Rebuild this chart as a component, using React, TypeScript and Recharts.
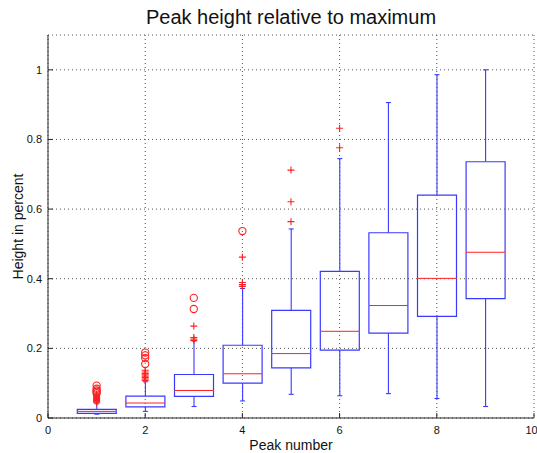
import type { ReactElement } from 'react';
import { Bar, CartesianGrid, ComposedChart, Label, Scatter, XAxis, YAxis } from 'recharts';

const peaks = [1, 2, 3, 4, 5, 6, 7, 8, 9];
const lowerWhisker = [0.011, 0.019, 0.033, 0.049, 0.068, 0.064, 0.07, 0.056, 0.033];
const lowerQuartile = [0.013, 0.032, 0.062, 0.1, 0.144, 0.195, 0.244, 0.292, 0.343];
const medians = [0.019, 0.043, 0.079, 0.127, 0.185, 0.249, 0.323, 0.401, 0.476];
const upperQuartile = [0.025, 0.063, 0.125, 0.209, 0.309, 0.421, 0.532, 0.64, 0.736];
const upperWhisker = [0.041, 0.104, 0.221, 0.372, 0.543, 0.745, 0.906, 0.986, 1.0];

// '+' marks (1.5–3 IQR) and 'o' marks (beyond 3 IQR), one list per peak
const outliers = [
  [0.044, 0.047, 0.05, 0.053, 0.056, 0.059, 0.062, 0.065, 0.068],
  [0.108, 0.112, 0.116, 0.12, 0.124, 0.128, 0.132, 0.137],
  [0.223, 0.227, 0.231, 0.264],
  [0.378, 0.383, 0.389, 0.462],
  [0.564, 0.621, 0.712],
  [0.776, 0.832],
  [],
  [],
  [],
];
const extremes = [
  [0.071, 0.075, 0.079, 0.084, 0.093],
  [0.155, 0.172, 0.18, 0.188],
  [0.313, 0.345],
  [0.537],
  [],
  [],
  [],
  [],
  [],
];

const xTicks = [0, 2, 4, 6, 8, 10];
const yTicks = [0, 0.2, 0.4, 0.6, 0.8, 1];

const BLUE = '#3a3aff';
const RED = '#ff2020';
const FRAME = '#262626';
const FONT = '"Liberation Sans", Arial, Helvetica, sans-serif';

const rows = peaks.map((peak, i) => ({
  peak,
  base: lowerWhisker[i],
  lowTail: lowerQuartile[i] - lowerWhisker[i],
  lowBox: medians[i] - lowerQuartile[i],
  highBox: upperQuartile[i] - medians[i],
  highTail: upperWhisker[i] - upperQuartile[i],
}));

const plusPoints = outliers.flatMap((vals, i) => vals.map((value) => ({ peak: peaks[i], value })));
const circlePoints = extremes.flatMap((vals, i) => vals.map((value) => ({ peak: peaks[i], value })));

interface SegProps {
  x?: number;
  y?: number;
  width?: number;
  height?: number;
}

function seg(props: unknown): Required<SegProps> {
  const p = props as SegProps;
  return { x: Number(p.x ?? 0), y: Number(p.y ?? 0), width: Number(p.width ?? 0), height: Number(p.height ?? 0) };
}

function LowTail(props: unknown): ReactElement {
  const { x, y, width, height } = seg(props);
  const cx = x + width / 2;
  const bottom = y + height;
  return (
    <g stroke={BLUE} strokeWidth={1.1} fill="none">
      <line x1={cx} y1={y} x2={cx} y2={bottom} />
      <line x1={cx - 2.5} y1={bottom} x2={cx + 2.5} y2={bottom} />
    </g>
  );
}

function HighTail(props: unknown): ReactElement {
  const { x, y, width, height } = seg(props);
  const cx = x + width / 2;
  return (
    <g stroke={BLUE} strokeWidth={1.1} fill="none">
      <line x1={cx} y1={y} x2={cx} y2={y + height} />
      <line x1={cx - 2.5} y1={y} x2={cx + 2.5} y2={y} />
    </g>
  );
}

// lower half of the box: sides and bottom edge, open at the median
function LowBox(props: unknown): ReactElement {
  const { x, y, width, height } = seg(props);
  return (
    <path
      d={`M${x},${y}V${y + height}H${x + width}V${y}`}
      stroke={BLUE}
      strokeWidth={1.2}
      fill="none"
    />
  );
}

// upper half of the box plus the red median line at its bottom
function HighBox(props: unknown): ReactElement {
  const { x, y, width, height } = seg(props);
  return (
    <g fill="none">
      <path d={`M${x},${y + height}V${y}H${x + width}V${y + height}`} stroke={BLUE} strokeWidth={1.2} />
      <line x1={x} y1={y + height} x2={x + width} y2={y + height} stroke={RED} strokeWidth={1} />
    </g>
  );
}

function PlusMark(props: unknown): ReactElement {
  const { cx, cy } = props as { cx: number; cy: number };
  return <path d={`M${cx - 3.5},${cy}h7M${cx},${cy - 3.5}v7`} stroke={RED} strokeWidth={1.1} fill="none" />;
}

function CircleMark(props: unknown): ReactElement {
  const { cx, cy } = props as { cx: number; cy: number };
  return <circle cx={cx} cy={cy} r={3.6} stroke={RED} strokeWidth={1.1} fill="none" />;
}

const tickStyle = { fill: '#111', fontSize: 11, fontFamily: FONT };

export default function App(): ReactElement {
  return (
    <div style={{ position: 'relative', width: 537, height: 453, background: '#fff' }}>
      <style>{'body{margin:0}'}</style>
      <div
        style={{
          position: 'absolute',
          left: 48,
          width: 486,
          top: 6,
          textAlign: 'center',
          fontFamily: FONT,
          fontSize: 20,
          color: '#111',
          lineHeight: '23px',
        }}
      >
        Peak height relative to maximum
      </div>
      <ComposedChart width={537} height={453} data={rows} margin={{ top: 35, right: 3, bottom: 0, left: 0 }}>
        <CartesianGrid stroke="#555" strokeDasharray="1 3" />
        <XAxis
          dataKey="peak"
          type="number"
          domain={[0, 10]}
          ticks={xTicks}
          allowDataOverflow
          height={35}
          tickSize={-5}
          tickMargin={13}
          stroke={FRAME}
          tick={tickStyle}
        >
          <Label
            content={(props: unknown) => {
              const vb = (props as { viewBox: { x: number; y: number; width: number } }).viewBox;
              return (
                <text x={vb.x + vb.width / 2} y={vb.y + 32} textAnchor="middle" fontSize={14} fontFamily={FONT} fill="#111">
                  Peak number
                </text>
              );
            }}
          />
        </XAxis>
        <XAxis
          xAxisId="top"
          orientation="top"
          type="number"
          domain={[0, 10]}
          ticks={xTicks}
          allowDataOverflow
          height={0}
          tick={false}
          tickSize={-5}
          stroke={FRAME}
        />
        <YAxis
          type="number"
          domain={[0, 1.1]}
          ticks={yTicks}
          allowDataOverflow
          width={48}
          tickSize={-5}
          tickMargin={11}
          stroke={FRAME}
          tick={tickStyle}
        >
          <Label
            content={(props: unknown) => {
              const vb = (props as { viewBox: { y: number; height: number } }).viewBox;
              const cx = 18;
              const cy = vb.y + vb.height / 2;
              return (
                <text
                  x={cx}
                  y={cy}
                  transform={`rotate(-90 ${cx} ${cy})`}
                  textAnchor="middle"
                  dominantBaseline="central"
                  fontSize={14}
                  fontFamily={FONT}
                  fill="#111"
                >
                  Height in percent
                </text>
              );
            }}
          />
        </YAxis>
        <YAxis
          yAxisId="right"
          orientation="right"
          type="number"
          domain={[0, 1.1]}
          ticks={yTicks}
          allowDataOverflow
          width={0}
          tick={false}
          tickSize={-5}
          stroke={FRAME}
        />
        <Bar dataKey="base" stackId="box" barSize={39} isAnimationActive={false} shape={() => <g />} />
        <Bar dataKey="lowTail" stackId="box" barSize={39} isAnimationActive={false} shape={LowTail} />
        <Bar dataKey="lowBox" stackId="box" barSize={39} isAnimationActive={false} shape={LowBox} />
        <Bar dataKey="highBox" stackId="box" barSize={39} isAnimationActive={false} shape={HighBox} />
        <Bar dataKey="highTail" stackId="box" barSize={39} isAnimationActive={false} shape={HighTail} />
        <Scatter data={plusPoints} dataKey="value" isAnimationActive={false} shape={PlusMark} />
        <Scatter data={circlePoints} dataKey="value" isAnimationActive={false} shape={CircleMark} />
      </ComposedChart>
    </div>
  );
}
